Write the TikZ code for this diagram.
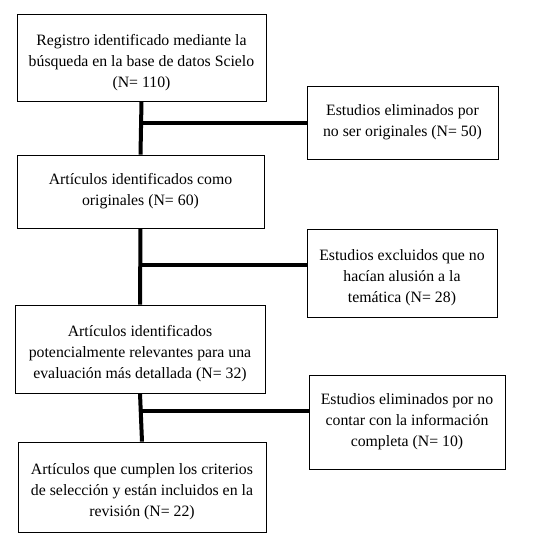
\documentclass[tikz,border=0pt]{standalone}
\usepackage{fontspec}
\setmainfont{Liberation Serif}
\usepackage{tikz}

\tikzset{
    box/.style={draw, line width=0.8pt, align=center, inner sep=0pt,
        font=\fontsize{15.8}{21}\selectfont},
    conn/.style={line width=4pt},
}
% a taller first line drops three-line texts a little
\newcommand{\firstline}{\rule{0pt}{21pt}}

\begin{document}
\begin{tikzpicture}[x=1pt,y=-1pt]
        \useasboundingbox (0,0) rectangle (540,550);
        \node[box, minimum width=249pt, minimum height=87pt] (reg) at(141.5,57.5)
            {\firstline Registro identificado mediante la\\búsqueda en la base de datos Scielo\\(N= 110)};
        \node[box, minimum width=247pt, minimum height=73pt] (orig) at(140.5,191.5)
            {Artículos identificados como\\originales (N= 60)};
        \node[box, minimum width=250pt, minimum height=88pt] (pot) at(140,349)
            {\firstline Artículos identificados\\potencialmente relevantes para una\\evaluación más detallada (N= 32)};
        \node[box, minimum width=248pt, minimum height=90pt] (incl) at(142,487)
            {\firstline Artículos que cumplen los criterios\\de selección y están incluidos en la\\revisión (N= 22)};
        \node[box, minimum width=191pt, minimum height=73pt] (exc1) at(402.5,122.5)
            {Estudios eliminados por\\no ser originales (N= 50)};
        \node[box, minimum width=190pt, minimum height=88pt] (exc2) at(402,273)
            {\firstline Estudios excluidos que no\\hacían alusión a la\\temática (N= 28)};
        \node[box, minimum width=196pt, minimum height=94pt] (exc3) at(407,422)
            {Estudios eliminados por no\\contar con la información\\completa (N= 10)};
        \coordinate (j1) at(reg.south |- exc1.west);
        \coordinate (j2) at(140,265);
        \coordinate (j3) at(141,411);
        \path[draw, conn] (reg.south) -- (orig.north);
        \path[draw, conn] (orig.south) -- (pot.north);
        \path[draw, conn] (pot.south) -- (incl.north);
        \path[draw, conn] (j1) -- (exc1.west);
        \path[draw, conn] (j2) -- (j2 -| exc2.west);
        \path[draw, conn] (j3) -- (j3 -| exc3.west);
    \end{tikzpicture}
\end{document}
